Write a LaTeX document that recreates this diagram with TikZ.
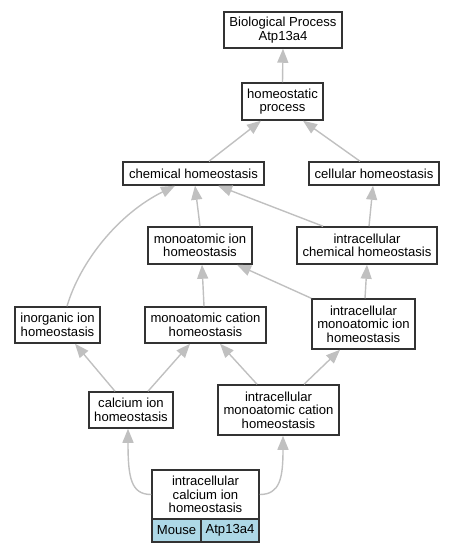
\documentclass[tikz,border=0pt]{standalone}
\usepackage{fontspec}
\setmainfont{Liberation Sans}
\usetikzlibrary{arrows.meta}
\definecolor{edgegray}{HTML}{C0C0C0}
\definecolor{cellblue}{HTML}{ADD8E6}
\tikzset{
  box/.style={draw=black!80, line width=1.5bp, fill=white, inner sep=0pt, align=center,
    font=\fontsize{13.1bp}{13.6bp}\selectfont},
  cell/.style={box, fill=cellblue},
  edge/.style={draw=edgegray, line width=1.4bp, -{Triangle[length=14bp,width=11bp]}},
}
\begin{document}
\begin{tikzpicture}[x=1bp,y=-1bp]
\useasboundingbox (0,0) rectangle (455,552);
\node[box, minimum width=118bp, minimum height=36bp] (bp) at (283,30) {Biological Process\\Atp13a4};
\node[box, minimum width=81bp, minimum height=37bp] (hp) at (282.5,101.5) {homeostatic\\process};
\node[box, minimum width=141bp, minimum height=23bp] (chem) at (193.5,173.5) {chemical homeostasis};
\node[box, minimum width=130bp, minimum height=23bp] (cell) at (374,173.5) {cellular homeostasis};
\node[box, minimum width=104bp, minimum height=37bp] (mion) at (200,245.5) {monoatomic ion\\homeostasis};
\node[box, minimum width=140bp, minimum height=37bp] (icchem) at (367,245.5) {intracellular\\chemical homeostasis};
\node[box, minimum width=85bp, minimum height=36bp] (inorg) at (57.5,325) {inorganic ion\\homeostasis};
\node[box, minimum width=121bp, minimum height=36bp] (mcat) at (205.5,325) {monoatomic cation\\homeostasis};
\node[box, minimum width=103bp, minimum height=50bp] (imion) at (363.5,324) {intracellular\\monoatomic ion\\homeostasis};
\node[box, minimum width=84bp, minimum height=36bp] (caion) at (131,410) {calcium ion\\homeostasis};
\node[box, minimum width=121bp, minimum height=50bp] (imcat) at (278.5,410) {intracellular\\monoatomic cation\\homeostasis};
\node[box, minimum width=107bp, minimum height=49bp] (ica) at (205.5,494.5) {intracellular\\calcium ion\\homeostasis};
\node[cell, minimum width=49bp, minimum height=23bp] (mouse) at (176.5,530.5) {Mouse};
\node[cell, minimum width=58bp, minimum height=23bp] (gene) at (230,530.5) {Atp13a4};

\draw[edge] (hp.north) -- (bp.south);
\draw[edge] ([xshift=15.5bp]chem.north) -- ([xshift=-21.5bp]hp.south);
\draw[edge] ([xshift=-14bp]cell.north) -- ([xshift=20.5bp]hp.south);
\draw[edge] (mion.north) -- ([xshift=1.5bp]chem.south);
\draw[edge] ([xshift=-44bp]icchem.north) -- ([xshift=24.5bp]chem.south);
\draw[edge] ([xshift=2bp]icchem.north) -- ([xshift=-1bp]cell.south);
\draw[edge] ([xshift=9.5bp]inorg.north) .. controls (80,262) and (118,214) .. ([xshift=-18.5bp]chem.south);
\draw[edge] ([xshift=-1.5bp]mcat.north) -- ([xshift=2bp]mion.south);
\draw[edge] (imion.north west) -- ([xshift=37bp]mion.south);
\draw[edge] ([xshift=1.5bp]imion.north) -- (icchem.south);
\draw[edge] ([xshift=-16bp]caion.north) -- ([xshift=17.5bp]inorg.south);
\draw[edge] ([xshift=17bp]caion.north) -- ([xshift=-15.5bp]mcat.south);
\draw[edge] ([xshift=-21.5bp]imcat.north) -- ([xshift=14.5bp]mcat.south);
\draw[edge] ([xshift=25.5bp]imcat.north) -- ([xshift=-23.5bp]imion.south);
\draw[edge] (ica.west) .. controls (131,494.5) and (128,478) .. ([xshift=-3bp]caion.south);
\draw[edge] (ica.east) .. controls (280,494.5) and (283,478) .. ([xshift=4.5bp]imcat.south);
\end{tikzpicture}
\end{document}
